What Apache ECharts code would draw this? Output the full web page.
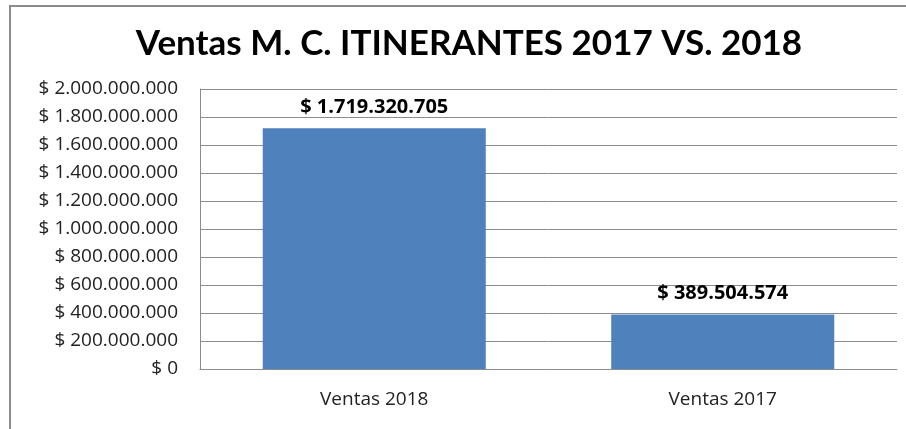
<!DOCTYPE html>
<html>
<head>
<meta charset="utf-8">
<title>Ventas M. C. ITINERANTES 2017 VS. 2018</title>
<script src="https://cdn.jsdelivr.net/npm/echarts@6/dist/echarts.min.js"></script>
<style>
  html, body { margin: 0; padding: 0; background: #fff; }
  #chart-show { width: 906px; height: 429px; }
</style>
</head>
<body>
<div id="chart-show"></div>
<script>
// datos del gráfico
var categorias = ['Ventas 2018', 'Ventas 2017'];
var ventas = [1719320705, 389504574];
var ejeMax = 2000000000;
var ejeIntervalo = 200000000;

// formato con puntos de miles
function pesos(v) {
    return '$ ' + String(Math.round(v)).replace(/\B(?=(\d{3})+(?!\d))/g, '.');
}

window.onload = function () {
    var myChart = echarts.init(document.getElementById('chart-show'));

    var option = {
        animation: false,
        backgroundColor: '#fff',
        title: {
            text: 'Ventas M. C. ITINERANTES 2017 VS. 2018',
            left: 464,
            textAlign: 'center',
            top: 21,
            textStyle: {
                fontFamily: 'Lato',
                fontWeight: 'bold',
                fontSize: 35,
                color: '#000'
            }
        },
        graphic: [{
            type: 'rect',
            shape: { x: 10, y: 6, width: 920, height: 460 },
            style: { fill: 'none', stroke: '#8c8c8c', lineWidth: 2 },
            silent: true
        }],
        grid: { left: 200, right: 9, top: 89, bottom: 60 },
        xAxis: {
            type: 'category',
            data: categorias,
            axisTick: { show: false },
            axisLine: { lineStyle: { color: '#8c8c8c' } },
            axisLabel: {
                margin: 21,
                fontFamily: 'Open Sans',
                fontSize: 19,
                color: '#222'
            }
        },
        yAxis: {
            type: 'value',
            min: 0,
            max: ejeMax,
            interval: ejeIntervalo,
            axisLine: { show: true, lineStyle: { color: '#8c8c8c' } },
            axisTick: { show: false },
            splitLine: { lineStyle: { color: '#8c8c8c' } },
            axisLabel: {
                margin: 22,
                fontFamily: 'Open Sans',
                fontSize: 19,
                color: '#222',
                formatter: pesos
            }
        },
        series: [{
            type: 'bar',
            data: ventas,
            barWidth: '64%',
            itemStyle: { color: '#4f81bd' },
            label: {
                show: true,
                position: 'top',
                distance: 11,
                fontFamily: 'Open Sans',
                fontWeight: 'bold',
                fontSize: 20,
                color: '#000',
                formatter: function (p) { return pesos(p.value); }
            }
        }]
    };
    myChart.setOption(option);
    window.onresize = function () {
        myChart.resize();
    };
};
</script>
</body>
</html>
